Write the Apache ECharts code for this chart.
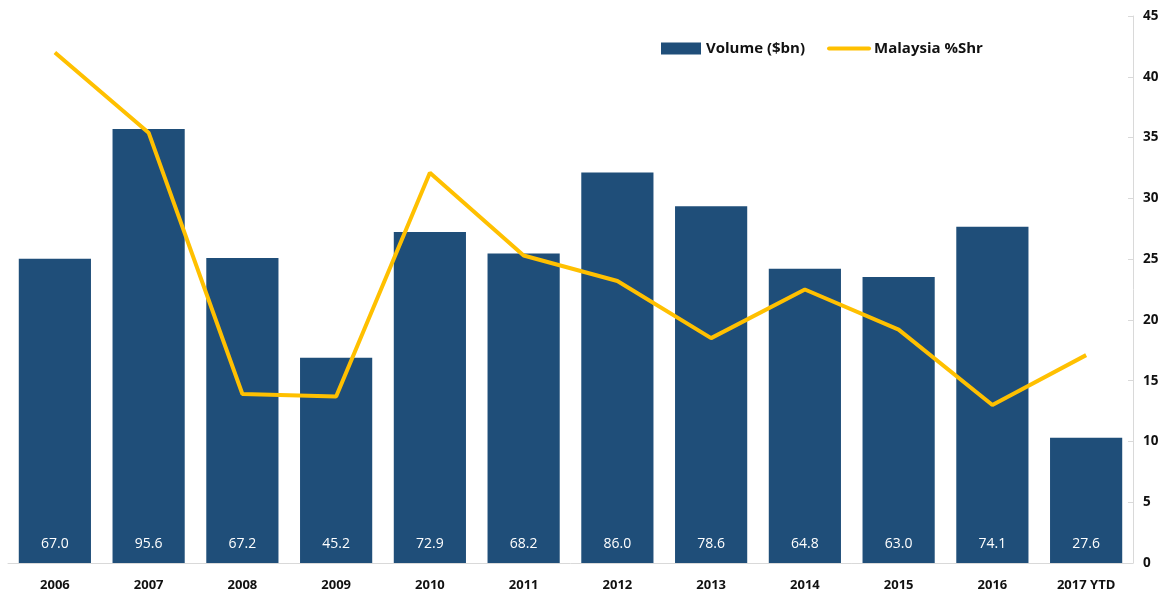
<!DOCTYPE html>
<html><head><meta charset="utf-8">
<script src="https://cdn.jsdelivr.net/npm/echarts@6/dist/echarts.min.js"></script>
<style>html,body{margin:0;padding:0;background:#fff}#c{width:1163px;height:592px}</style>
</head><body><div id="c"></div>
<script>
const categories = ['2006','2007','2008','2009','2010','2011','2012','2013','2014','2015','2016','2017 YTD'];
const volume = [67.0, 95.6, 67.2, 45.2, 72.9, 68.2, 86.0, 78.6, 64.8, 63.0, 74.1, 27.6];
const malaysiaShare = [42.0, 35.4, 13.9, 13.7, 32.1, 25.3, 23.2, 18.5, 22.5, 19.2, 13.0, 17.1];
const rightTicks = [0, 5, 10, 15, 20, 25, 30, 35, 40, 45];

const chart = echarts.init(document.getElementById('c'));
chart.setOption({
  animation: false,
  textStyle: {fontFamily: 'Open Sans, Liberation Sans, sans-serif'},
  grid: {left: 8, right: 30, top: 16, bottom: 29, containLabel: false},
  legend: {
    left: 656, top: 36, itemGap: 22, itemWidth: 40, itemHeight: 12,
    textStyle: {fontWeight: 'bold', fontSize: 15, color: '#111', fontFamily: 'Open Sans, sans-serif'},
    data: [
      {name: 'Volume ($bn)', icon: 'rect'},
      {name: 'Malaysia %Shr', itemStyle: {opacity: 0}, lineStyle: {width: 4, color: '#FFC000', cap: 'round'}}
    ]
  },
  xAxis: {
    type: 'category', data: categories,
    axisLine: {lineStyle: {color: '#d9d9d9', width: 1}},
    axisTick: {show: false},
    axisLabel: {fontWeight: 'bold', fontSize: 13, color: '#111', margin: 16}
  },
  yAxis: [
    {type: 'value', min: 0, max: 120.5, show: false, splitLine: {show: false}},
    {type: 'value', position: 'right', min: 0, max: 45, interval: 5,
     axisLine: {show: true, lineStyle: {color: '#d9d9d9'}},
     axisTick: {show: true, inside: true, length: 5, lineStyle: {color: '#d9d9d9'}},
     splitLine: {show: false},
     axisLabel: {fontWeight: 'bold', fontSize: 13.5, color: '#111', margin: 10,
       formatter: v => rightTicks.includes(v) ? String(v) : ''}}
  ],
  series: [
    {name: 'Volume ($bn)', type: 'bar', yAxisIndex: 0, data: volume, barCategoryGap: '23%',
     itemStyle: {color: '#1F4E79'},
     label: {show: true, position: 'insideBottom', distance: 12, color: '#ffffff', fontSize: 14,
       formatter: p => p.value.toFixed(1)}},
    {name: 'Malaysia %Shr', type: 'line', yAxisIndex: 1, data: malaysiaShare,
     symbol: 'none', lineStyle: {color: '#FFC000', width: 4}, itemStyle: {color: '#FFC000'}}
  ]
});
</script></body></html>
